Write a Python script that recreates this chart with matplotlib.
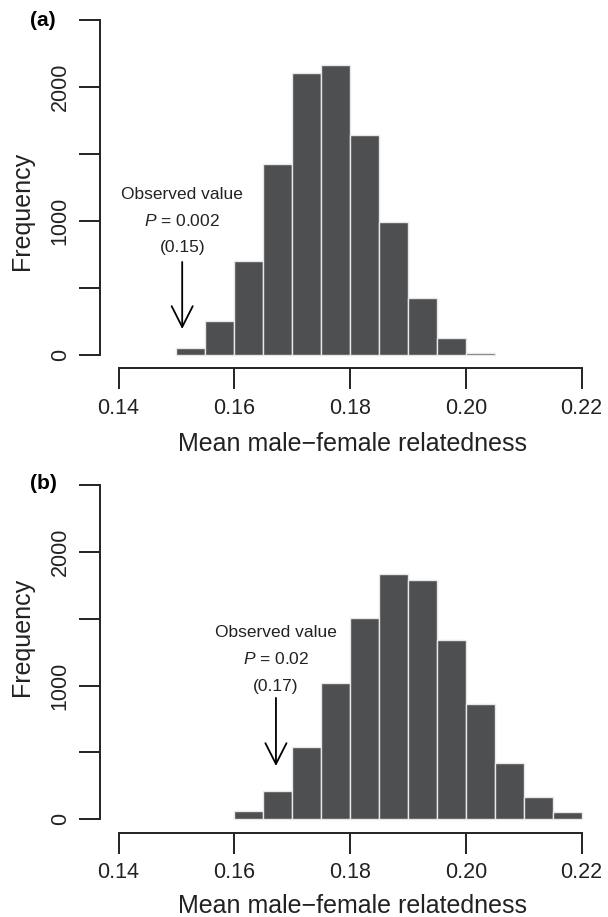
import numpy as np
import matplotlib
matplotlib.use('Agg')
import matplotlib.pyplot as plt

plt.rcParams['font.family'] = ['Liberation Sans', 'DejaVu Sans']
plt.rcParams['mathtext.fontset'] = 'custom'
plt.rcParams['mathtext.it'] = 'Liberation Sans:italic'
plt.rcParams['mathtext.rm'] = 'Liberation Sans'

# histogram of permuted means, panel (a)
edges_a = [0.150, 0.155, 0.160, 0.165, 0.170, 0.175, 0.180,
           0.185, 0.190, 0.195, 0.200, 0.205]
counts_a = [55, 253, 700, 1425, 2105, 2166, 1642, 992, 425, 127, 15]
obs_a = 0.151
text_a = ['Observed value', r'$\mathit{P}$ = 0.002', '(0.15)']

# panel (b)
edges_b = [0.160, 0.165, 0.170, 0.175, 0.180, 0.185, 0.190,
           0.195, 0.200, 0.205, 0.210, 0.215, 0.220]
counts_b = [65, 214, 543, 1022, 1504, 1836, 1786, 1342, 861, 419, 165, 52]
obs_b = 0.1672
text_b = ['Observed value', r'$\mathit{P}$ = 0.02', '(0.17)']

xticks = [0.14, 0.16, 0.18, 0.20, 0.22]
yticks = [0, 500, 1000, 1500, 2000, 2500]
ylabels = ['0', '', '1000', '', '2000', '']

bar_col = '#4e4f51'
ink = '#222222'

fig = plt.figure(figsize=(6.08, 9.17), dpi=100)
ax_a = fig.add_axes([0.1645, 0.5983, 0.8224, 0.3945])
ax_b = fig.add_axes([0.1645, 0.0919, 0.8224, 0.3938])


def draw(ax, edges, counts, obs, arrow_top, arrow_tip, text_y, lines, tag,
         tag_y, ylab_y, xlab_y):
    e = np.array(edges)
    ax.bar(e[:-1], counts, width=np.diff(e), align='edge', color=bar_col,
           edgecolor='#e8e8e8', linewidth=1.0)
    ax.set_xlim(0.1368, 0.2232)
    ax.set_ylim(-100, 2600)
    for s in ['top', 'right']:
        ax.spines[s].set_visible(False)
    ax.spines['left'].set_bounds(0, 2500)
    ax.spines['bottom'].set_bounds(0.14, 0.22)
    for s in ['left', 'bottom']:
        ax.spines[s].set_linewidth(1.4)
        ax.spines[s].set_color(ink)
    ax.set_xticks(xticks)
    ax.set_xticklabels(['%.2f' % v for v in xticks])
    ax.set_yticks(yticks)
    ax.set_yticklabels(ylabels, rotation=90, va='center')
    ax.tick_params(length=15, width=1.4, color=ink, labelsize=15.5,
                   pad=6, labelcolor=ink)
    ax.text(-0.156, ylab_y, 'Frequency', transform=ax.transAxes,
            rotation=90, ha='center', va='center', fontsize=18, color=ink)
    ax.text(0.505, xlab_y, 'Mean male\u2212female relatedness',
            transform=ax.transAxes, ha='center', va='baseline',
            fontsize=18, color=ink)
    ax.annotate('', xy=(obs, arrow_tip), xytext=(obs, arrow_top),
                arrowprops=dict(arrowstyle='->,head_length=0.75,head_width=0.38',
                                lw=1.3, color='black', shrinkA=0, shrinkB=0,
                                mutation_scale=20))
    for t, yv in zip(lines, text_y):
        ax.text(obs, yv, t, ha='center', va='center', fontsize=12.5,
                color=ink)
    ax.text(-0.114, tag_y, tag, transform=ax.transAxes, fontsize=15,
            fontweight='bold', ha='center', va='center')


draw(ax_a, edges_a, counts_a, obs_a, 694, 194, [1194, 1000, 799], text_a,
     '(a)', 0.962, 0.435, -0.2283)
draw(ax_b, edges_b, counts_b, obs_b, 908, 399, [1394, 1199, 990], text_b,
     '(b)', 0.966, 0.543, -0.2224)

fig.savefig('out.png', dpi=100)
